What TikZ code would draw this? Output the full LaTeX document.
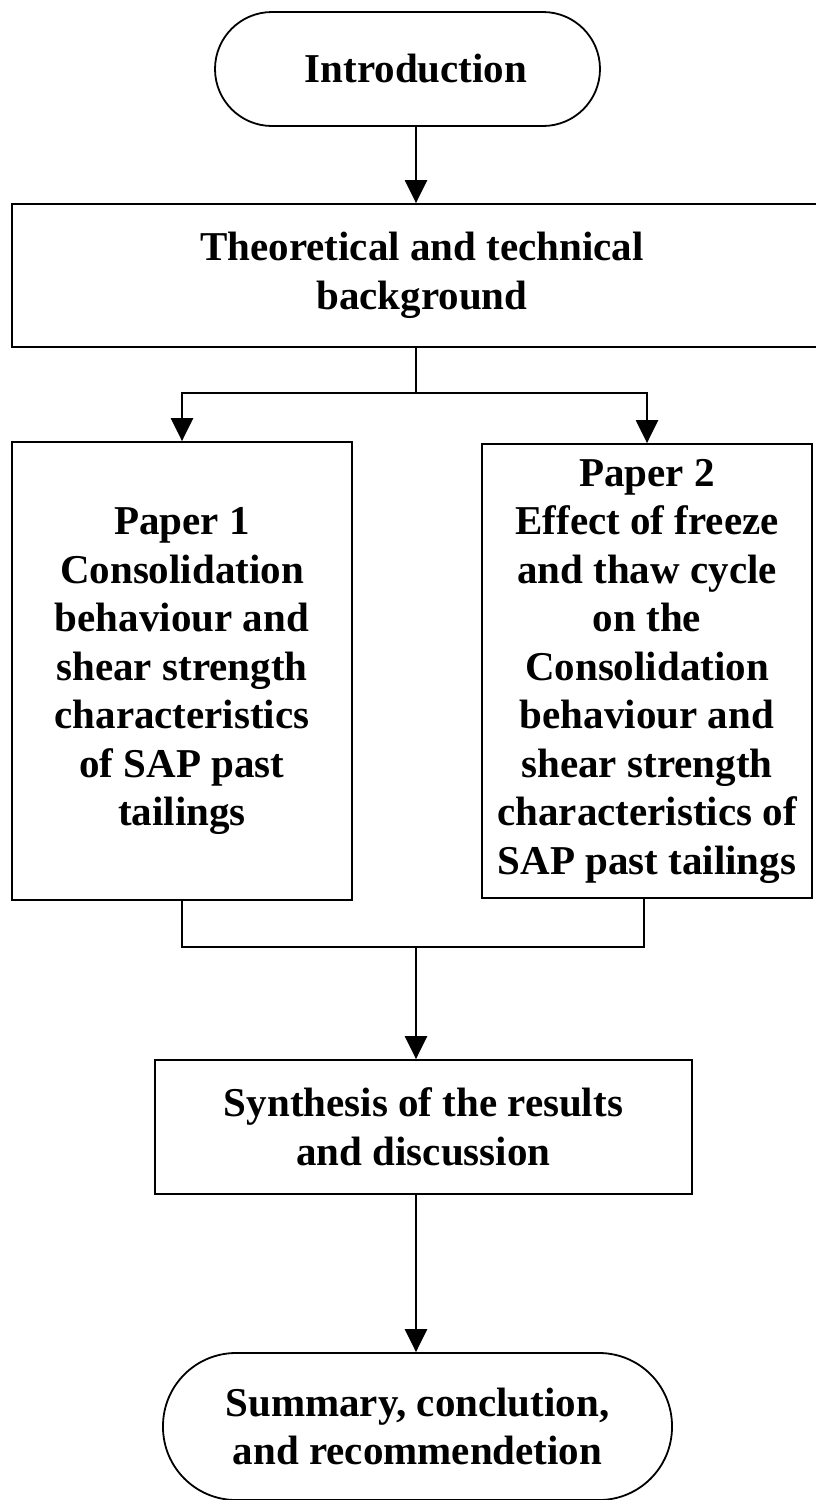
\documentclass[tikz,border=0pt]{standalone}
\usepackage{fontspec}
\setmainfont{Liberation Serif}
\usetikzlibrary{arrows.meta}
\begin{document}
\begin{tikzpicture}[x=1pt,y=-1pt,
  txt/.style={font=\fontsize{41}{48.5}\selectfont\bfseries, align=center, inner sep=0pt, text=black},
  boxst/.style={txt, draw=black, line width=1.8pt, rectangle},
  termst/.style={txt, draw=black, line width=1.8pt, rectangle, rounded corners=#1},
  conn/.style={line width=2.4pt, draw=black},
  arr/.style={conn, -{Triangle[length=23pt,width=22pt]}}]
\useasboundingbox (0,0) rectangle (816,1500);
\fill[white] (0,0) rectangle (816,1500);
\coordinate (xs) at (416,0);
\node[termst=57, minimum width=385pt, minimum height=114pt] (intro) at (407.5,69) {\hspace*{17pt}Introduction};
\node[boxst, minimum width=820pt, minimum height=143pt] (theo) at (422,275.5) {Theoretical and technical\\background};
\node[boxst, minimum width=340pt, minimum height=458pt] (p1) at (182,671) {Paper 1\\Consolidation\\behaviour and\\shear strength\\characteristics\\of SAP past\\tailings};
\node[boxst, minimum width=330pt, minimum height=454pt] (p2) at (647,671) {Paper 2\\Effect of freeze\\and thaw cycle\\on the\\Consolidation\\behaviour and\\shear strength\\characteristics of\\SAP past tailings};
\node[boxst, minimum width=537pt, minimum height=134pt] (syn) at (423.5,1127) {Synthesis of the results\\and discussion};
\node[termst=73, minimum width=509pt, minimum height=147pt] (sum) at (417.5,1426.5) {Summary, conclution,\\and recommendetion};
\coordinate (split) at (416,393);
\coordinate (join) at (416,947);
\draw[arr] (intro.south -| xs) -- (theo.north -| xs);
\draw[conn] (theo.south -| xs) -- (split);
\draw[arr] (split) -| (p1.north);
\draw[arr] (split) -| (p2.north);
\draw[conn] (p1.south) |- (join);
\draw[conn] ([xshift=-3pt]p2.south) |- (join);
\draw[arr] (join) -- (syn.north -| xs);
\draw[arr] (syn.south -| xs) -- (sum.north -| xs);
\end{tikzpicture}
\end{document}
